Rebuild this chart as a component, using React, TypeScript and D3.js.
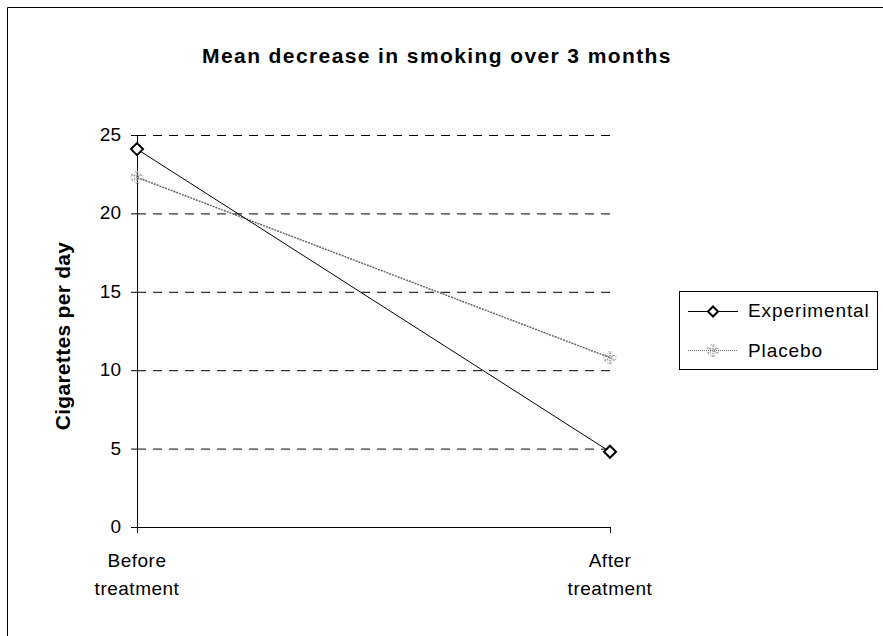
import React from "react";
import * as d3 from "d3";

const categories = ["Before|treatment", "After|treatment"];
const experimental = [24.1, 4.8];
const placebo = [22.3, 10.8];
const yTicks = [0, 5, 10, 15, 20, 25];
const title = "Mean decrease in smoking over 3 months";
const yLabel = "Cigarettes per day";
const seriesNames = ["Experimental", "Placebo"];

export default function App() {
  const W = 883, H = 636;
  const x = d3.scalePoint<string>().domain(categories).range([137, 610]);
  const y = d3.scaleLinear().domain([0, 25]).range([527, 135]);
  const line = d3.line<number>().x((_, i) => x(categories[i])!).y((d) => y(d));
  const font = "'Liberation Sans', Arial, sans-serif";
  const diamond = (cx: number, cy: number, r = 6) =>
    `M${cx},${cy - r}L${cx + r},${cy}L${cx},${cy + r}L${cx - r},${cy}Z`;
  const star = d3.symbol(d3.symbolAsterisk, 110)();
  const grayMarker = (cx: number, cy: number, k: string) => (
    <g key={k} transform={`translate(${cx},${cy})`}>
      <path d={star} fill="none" stroke="#999" strokeWidth={1.5} strokeDasharray="1.5,1" />
      <path d={d3.symbol(d3.symbolCross, 80)()!} fill="none" stroke="#aaa" strokeWidth={1} strokeDasharray="1,1" />
    </g>
  );
  return (
    <svg width={W} height={H} style={{ position: "absolute", left: 0, top: 0 }} fontFamily={font}>
      <rect x={0} y={0} width={W} height={H} fill="#fff" />
      <path d={`M7.5,${H}V7.5H${W}`} fill="none" stroke="#000" strokeWidth={1} />
      <text x={437} y={63} textAnchor="middle" fontWeight="bold" fontSize={21} letterSpacing={1.4}>{title}</text>
      <text transform={`translate(70,336) rotate(-90)`} textAnchor="middle" fontWeight="bold" fontSize={21} letterSpacing={0.3}>{yLabel}</text>
      {yTicks.filter((t) => t > 0).map((t) => (
        <line key={"g" + t} x1={137} x2={610} y1={y(t) + 0.5} y2={y(t) + 0.5} stroke="#000" strokeDasharray="9,7" strokeWidth={1} />
      ))}
      <line x1={137.5} x2={137.5} y1={y(25)} y2={y(0)} stroke="#000" />
      <line x1={137} x2={610} y1={y(0) + 0.5} y2={y(0) + 0.5} stroke="#000" />
      {yTicks.map((t) => (
        <g key={"t" + t}>
          <line x1={131} x2={137} y1={y(t) + 0.5} y2={y(t) + 0.5} stroke="#000" />
          <text x={121} y={y(t) + 6} textAnchor="end" fontSize={19}>{t}</text>
        </g>
      ))}
      {categories.map((c) => (
        <g key={c}>
          <line x1={x(c)! + 0.5} x2={x(c)! + 0.5} y1={y(0)} y2={y(0) + 6} stroke="#000" />
          {c.split("|").map((s, i) => (
            <text key={i} x={x(c)!} y={567 + i * 28} textAnchor="middle" fontSize={19} letterSpacing={0.5}>{s}</text>
          ))}
        </g>
      ))}
      <path d={line(placebo)!} fill="none" stroke="#666" strokeWidth={1.5} strokeDasharray="2,1" />
      <path d={line(experimental)!} fill="none" stroke="#000" strokeWidth={1} />
      {placebo.map((v, i) => grayMarker(x(categories[i])!, y(v), "p" + i))}
      {experimental.map((v, i) => (
        <path key={"e" + i} d={diamond(x(categories[i])!, y(v))} fill="#fff" stroke="#000" strokeWidth={2} />
      ))}
      <rect x={679.5} y={291.5} width={198} height={78} fill="#fff" stroke="#000" />
      <line x1={688} x2={738} y1={311.5} y2={311.5} stroke="#000" />
      <path d={diamond(713, 311.5, 5)} fill="#fff" stroke="#000" strokeWidth={2} />
      <text x={748} y={317} fontSize={19} letterSpacing={0.9}>{seriesNames[0]}</text>
      <line x1={688} x2={738} y1={350.5} y2={350.5} stroke="#777" strokeDasharray="1,1" />
      {grayMarker(713, 350.5, "lg")}
      <text x={748} y={357} fontSize={19} letterSpacing={0.9}>{seriesNames[1]}</text>
    </svg>
  );
}
